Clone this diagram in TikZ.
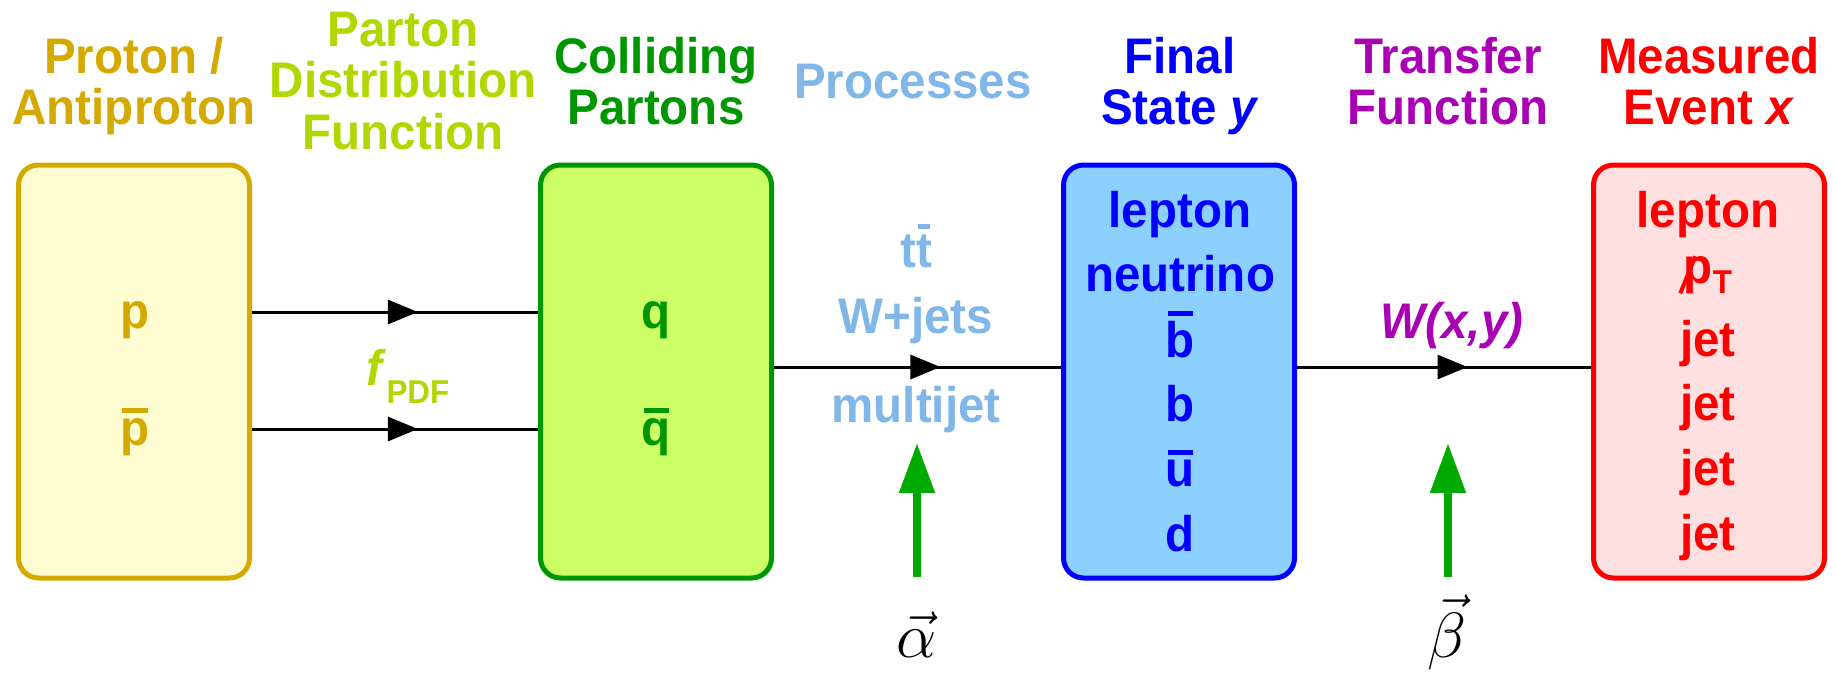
\RequirePackage{fix-cm}
\documentclass[tikz,border=0pt]{standalone}
\usepackage{graphicx}
\usepackage{fontspec}
\newfontfamily\dfont{Liberation Sans}[FakeStretch=0.95]
\usetikzlibrary{arrows.meta,decorations.markings}

\definecolor{cgold}{RGB}{212,170,0}
\definecolor{cyfill}{RGB}{255,253,209}
\definecolor{cpdf}{RGB}{176,216,0}
\definecolor{cgreen}{RGB}{0,150,0}
\definecolor{cgfill}{RGB}{204,255,102}
\definecolor{cproc}{RGB}{128,182,232}
\definecolor{cblue}{RGB}{0,0,255}
\definecolor{cbfill}{RGB}{140,208,255}
\definecolor{cpurple}{RGB}{170,0,180}
\definecolor{cred}{RGB}{255,0,0}
\definecolor{crfill}{RGB}{255,224,224}
\definecolor{carrow}{RGB}{0,170,0}

\newcommand\ovl[1]{\setbox0\hbox{#1}\hbox{\rlap{\kern0.04em\rule[\dimexpr\ht0+5pt\relax]{\dimexpr\wd0-0.08em\relax}{5pt}}\box0}}
\newcommand\mlines[2]{{\fontsize{50}{#1}\selectfont\begin{tabular}[t]{@{}c@{}}#2\end{tabular}}}
\newcommand\slashp{\leavevmode\rlap{\kern-5.5pt\raisebox{-10.5pt}{\rotatebox{68}{\rule{40pt}{4pt}}}}p}

\begin{document}
\begin{tikzpicture}[x=1pt,y=-1pt,
  txt/.style={font=\dfont\bfseries\fontsize{50}{51}\selectfont, inner sep=0pt, anchor=base},
  box/.style={draw, rounded corners=20pt, line width=5pt, minimum width=231pt, minimum height=413pt, inner sep=0pt},
  conn/.style={draw=black, line width=3pt, postaction={decorate},
    decoration={markings, mark=at position 0.58 with {\arrow{Triangle[length=30pt,width=24pt]}}}},
  param/.style={draw=carrow, line width=8pt, -{Triangle[length=50pt,width=34pt]}},
  mlab/.style={inner sep=0pt, anchor=base, font=\fontsize{64}{64}\selectfont}]
\useasboundingbox (0,0) rectangle (1835,672);

% boxes
\node[box, draw=cgold, fill=cyfill] (pp) at (134,371.5) {};
\node[box, draw=cgreen, fill=cgfill] (qq) at (656,371.5) {};
\node[box, draw=cblue, fill=cbfill] (fs) at (1179,371.5) {};
\node[box, draw=cred, fill=crfill] (me) at (1709,371.5) {};

% titles
\node[txt, text=cgold] (t1) at (134,73) {\mlines{51}{Proton /\\Antiproton}};
\node[txt, text=cpdf] (t2) at (403,46) {\mlines{51}{Parton\\Distribution\\Function}};
\node[txt, text=cgreen] (t3) at (656,73) {\mlines{51}{Colliding\\Partons}};
\node[txt, text=cproc] (t4) at (913,98) {Processes};
\node[txt, text=cblue] (t5) at (1180,73) {\mlines{51}{Final\\State \textit{y}}};
\node[txt, text=cpurple] (t6) at (1448,73) {\mlines{51}{Transfer\\Function}};
\node[txt, text=cred] (t7) at (1709,73) {\mlines{51}{Measured\\Event \textit{x}}};

% contents
\node[txt, text=cgold] (ptxt) at (135,328) {\mlines{117}{p\\\ovl{p}}};
\node[txt, text=cgreen] (qtxt) at (656,328) {\mlines{117}{q\\\ovl{q}}};
\node[txt, text=cproc] (proc) at (916,267) {\mlines{66}{t\ovl{t}\\W+jets\\[23pt]multijet}};
\node[txt, text=cblue] (fstxt) at (1180,227) {\mlines{64.6}{lepton\\neutrino\\\ovl{b}\\b\\\ovl{u}\\d}};
\node[txt, text=cred] (metxt) at (1708,227) {\mlines{64.6}{lepton\\\raisebox{8pt}{\slashp\raisebox{-10pt}{\fontsize{33}{33}\selectfont T}}\\jet\\jet\\jet\\jet}};
\node[txt, text=cpdf] (fpdf) at (408,385) {\textit{f}\raisebox{-18pt}{\fontsize{33}{33}\selectfont PDF}};
\node[txt, text=cpurple] (wxy) at (1452,338) {\textit{W(x,y)}};

% connectors
\draw[conn] ([yshift=59.5pt]pp.east) -- ([yshift=59.5pt]qq.west);
\draw[conn] ([yshift=-57.5pt]pp.east) -- ([yshift=-57.5pt]qq.west);
\draw[conn] ([yshift=4.5pt]qq.east) -- ([yshift=4.5pt]fs.west);
\draw[conn] ([yshift=4.5pt]fs.east) -- ([yshift=4.5pt]me.west);

% parameter arrows
\coordinate (a0) at (917,577);
\coordinate (a1) at (917,443);
\coordinate (b0) at (1448,577);
\coordinate (b1) at (1448,443);
\draw[param] (a0) -- (a1);
\draw[param] (b0) -- (b1);
\node[mlab] (alpha) at (917,657) {$\vec{\alpha}$};
\node[mlab] (beta) at (1447,657) {$\vec{\beta}$};
\end{tikzpicture}
\end{document}
